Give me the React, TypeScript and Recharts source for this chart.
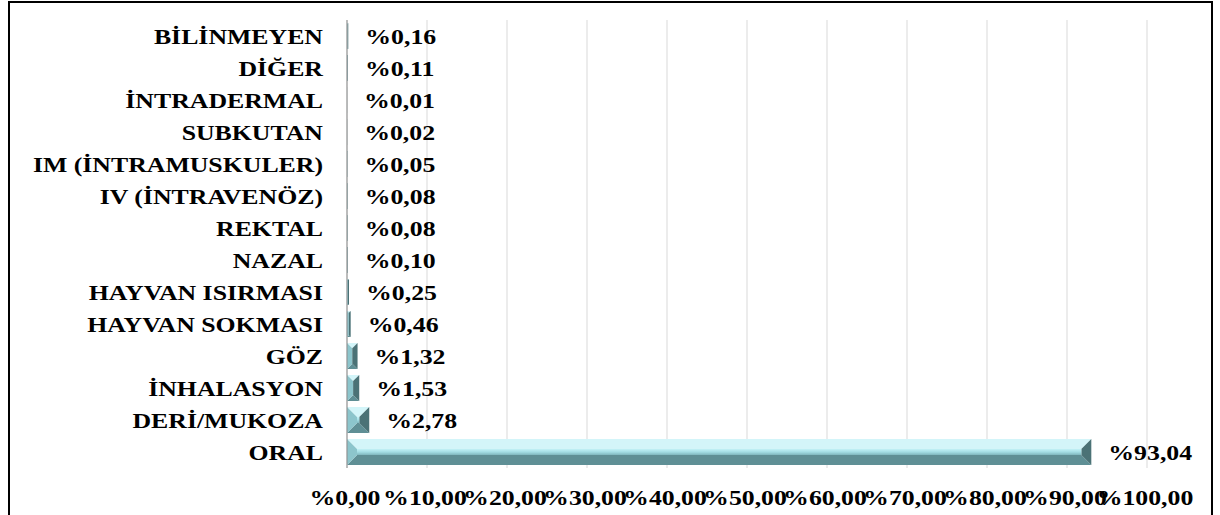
import { Bar, BarChart, CartesianGrid, LabelList, XAxis, YAxis } from "recharts";

const categories = [
  "BİLİNMEYEN",
  "DİĞER",
  "İNTRADERMAL",
  "SUBKUTAN",
  "IM (İNTRAMUSKULER)",
  "IV (İNTRAVENÖZ)",
  "REKTAL",
  "NAZAL",
  "HAYVAN ISIRMASI",
  "HAYVAN SOKMASI",
  "GÖZ",
  "İNHALASYON",
  "DERİ/MUKOZA",
  "ORAL",
];

const percentages = [0.16, 0.11, 0.01, 0.02, 0.05, 0.08, 0.08, 0.1, 0.25, 0.46, 1.32, 1.53, 2.78, 93.04];

const xTicks = [0, 10, 20, 30, 40, 50, 60, 70, 80, 90, 100];

const data = categories.map((name, i) => ({ name, value: percentages[i] }));

const FONT = "'Liberation Serif', 'Times New Roman', serif";
const FONT_SIZE = 21.5;
const STRETCH = 1.2;

// Turkish style percent: %12,34
const fmt = (v: number) => "%" + v.toFixed(2).replace(".", ",");

function StretchText({ x, y, anchor, children }: any) {
  return (
    <text
      transform={`translate(${x},${y}) scale(${STRETCH},1)`}
      textAnchor={anchor}
      fontFamily={FONT}
      fontSize={FONT_SIZE}
      fontWeight="bold"
      fill="#000"
    >
      {children}
    </text>
  );
}

function CategoryTick({ x, y, payload }: any) {
  return (
    <StretchText x={x - 16} y={y + 7.5} anchor="end">
      {payload.value}
    </StretchText>
  );
}

function PercentTick({ x, y, payload }: any) {
  return (
    <StretchText x={x - 2} y={y + 29} anchor="middle">
      {fmt(payload.value)}
    </StretchText>
  );
}

function ValueLabel({ x, y, width, height, value }: any) {
  return (
    <StretchText x={x + width + 17} y={y + height / 2 + 7.5} anchor="start">
      {fmt(value)}
    </StretchText>
  );
}

// Excel-like bevelled bar
function BevelBar({ x, y, width, height }: any) {
  if (!width || width <= 0) return null;
  const w = width;
  const h = height;
  const b = Math.min(10, h / 2, w / 2);
  return (
    <g>
      <polygon
        points={`${x},${y} ${x + w},${y} ${x + w - b},${y + b} ${x + b},${y + b}`}
        fill="#d3f5f9"
      />
      <polygon
        points={`${x},${y + h} ${x + w},${y + h} ${x + w - b},${y + h - b} ${x + b},${y + h - b}`}
        fill="#5f8f95"
      />
      <polygon
        points={`${x},${y} ${x + b},${y + b} ${x + b},${y + h - b} ${x},${y + h}`}
        fill="#8cc5cc"
      />
      <polygon
        points={`${x + w},${y} ${x + w - b},${y + b} ${x + w - b},${y + h - b} ${x + w},${y + h}`}
        fill="#4b7276"
      />
      {w - 2 * b > 0 && (
        <rect x={x + b} y={y + b} width={w - 2 * b} height={h - 2 * b} fill="url(#barFace)" />
      )}
    </g>
  );
}

export default function App() {
  return (
    <div
      style={{
        position: "absolute",
        left: 0,
        top: 0,
        width: 1220,
        height: 515,
        overflow: "hidden",
        background: "#fff",
      }}
    >
      <div
        style={{
          position: "absolute",
          left: 8,
          top: 1,
          width: 1205,
          height: 600,
          boxSizing: "border-box",
          border: "2px solid #000",
        }}
      />
      <div style={{ position: "absolute", left: 0, top: 0 }}>
        <BarChart
          width={1220}
          height={515}
          data={data}
          layout="vertical"
          margin={{ top: 20, right: 73, left: 0, bottom: 0 }}
          barSize={26}
        >
          <defs>
            <linearGradient id="barFace" x1="0" y1="0" x2="0" y2="1">
              <stop offset="0%" stopColor="#c2f1f6" />
              <stop offset="50%" stopColor="#a3dde4" />
              <stop offset="100%" stopColor="#7fb6bd" />
            </linearGradient>
          </defs>
          <CartesianGrid horizontal={false} stroke="#d9d9d9" />
          <XAxis
            type="number"
            domain={[0, 100]}
            ticks={xTicks}
            axisLine={false}
            tickLine={false}
            height={47}
            interval={0}
            tick={<PercentTick />}
          />
          <YAxis
            type="category"
            dataKey="name"
            width={347}
            axisLine={{ stroke: "#8c8c8c" }}
            tickLine={false}
            interval={0}
            tick={<CategoryTick />}
          />
          <Bar dataKey="value" shape={<BevelBar />} isAnimationActive={false}>
            <LabelList dataKey="value" content={<ValueLabel />} />
          </Bar>
        </BarChart>
      </div>
    </div>
  );
}
